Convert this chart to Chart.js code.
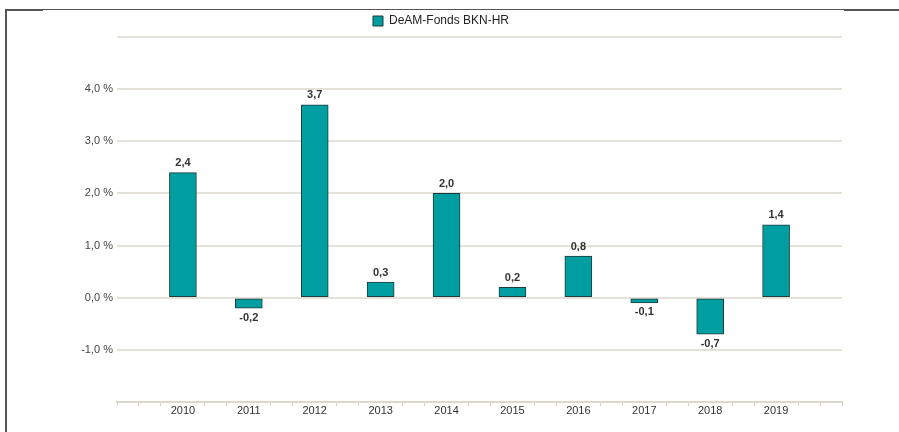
<!DOCTYPE html>
<html>
<head>
<meta charset="utf-8">
<script src="https://cdn.jsdelivr.net/npm/chart.js@4.4.0/dist/chart.umd.min.js"></script>
<style>
  html, body { margin: 0; padding: 0; background: #fff; }
  #wrap { position: relative; width: 899px; height: 432px; }
  #frame { position: absolute; left: 5px; top: 9px; width: 894px; height: 423px;
           border-top: 1px solid #555; border-left: 2px solid #555; box-sizing: border-box; pointer-events: none; }
  .thick { position: absolute; top: 9px; height: 2px; background: #555; }
</style>
</head>
<body>
<div id="wrap">
  <canvas id="myChart" width="899" height="432"></canvas>
  <div id="frame"></div>
  <div class="thick" style="left:5px;width:38px"></div>
  <div class="thick" style="left:844px;width:55px"></div>
</div>
<script>
// Datos del gráfico
var years = [2010, 2011, 2012, 2013, 2014, 2015, 2016, 2017, 2018, 2019];
var values = [2.4, -0.2, 3.7, 0.3, 2.0, 0.2, 0.8, -0.1, -0.7, 1.4];
var seriesName = 'DeAM-Fonds BKN-HR';
var yTicks = [-1, 0, 1, 2, 3, 4];

var fontFamily = '"Liberation Sans", Arial, sans-serif';

function fmt(v, dec) {
  return v.toFixed(dec).replace('.', ',');
}

// Plugin para dibujar los valores encima/debajo de las barras
var valueLabels = {
  id: 'valueLabels',
  afterDatasetsDraw: function(chart) {
    var ctx = chart.ctx;
    var meta = chart.getDatasetMeta(0);
    ctx.save();
    ctx.font = 'bold 11px ' + fontFamily;
    ctx.fillStyle = '#333';
    ctx.textAlign = 'center';
    meta.data.forEach(function(bar, i) {
      var v = values[i];
      if (v >= 0) {
        ctx.textBaseline = 'bottom';
        ctx.fillText(fmt(v, 1), bar.x, bar.y - 4);
      } else {
        ctx.textBaseline = 'top';
        ctx.fillText(fmt(v, 1), bar.x, bar.y + 4);
      }
    });
    ctx.restore();
  }
};

// la leyenda va un poco más a la derecha
var legendShift = {
  id: 'legendShift',
  afterLayout: function(chart) {
    chart.legend.left += 20;
    chart.legend.right += 20;
  }
};

function isYear(v) {
  return Math.abs(v - Math.round(v)) < 0.01;
}

var points = years.map(function(y, i) { return { x: y, y: values[i] }; });

var ctx = document.getElementById('myChart').getContext('2d');
var myChart = new Chart(ctx, {
  type: 'bar',
  data: {
    datasets: [{
      label: seriesName,
      data: points,
      backgroundColor: '#009ea0',
      borderColor: '#1e3a3a',
      borderWidth: 1,
      borderSkipped: false,
      barThickness: 27
    }]
  },
  options: {
    responsive: false,
    animation: false,
    layout: { padding: { left: 0, right: 57, top: 5, bottom: 0 } },
    plugins: {
      legend: {
        display: true,
        labels: {
          boxWidth: 10,
          boxHeight: 10,
          padding: 10,
          color: '#222',
          font: { family: fontFamily, size: 12 }
        }
      },
      tooltip: { enabled: false }
    },
    scales: {
      x: {
        type: 'linear',
        min: 2009,
        max: 2020,
        offset: false,
        afterFit: function(scale) { scale.height = 30; },
        border: { display: true, color: '#dcd8cc', width: 2 },
        grid: {
          offset: false,
          drawOnChartArea: false,
          drawTicks: true,
          tickLength: 4,
          tickWidth: 1,
          tickColor: function(c) {
            var v = c.tick ? c.tick.value : 0;
            if (isYear(v) && v > 2009.5 && v < 2019.5) return 'rgba(0,0,0,0)';
            return '#d6d2c6';
          }
        },
        ticks: {
          stepSize: 1 / 3,
          autoSkip: false,
          maxRotation: 0,
          padding: -2,
          color: '#333',
          font: { family: fontFamily, size: 11 },
          callback: function(v) {
            if (isYear(v) && v > 2009.5 && v < 2019.5) return String(Math.round(v));
            return '';
          }
        }
      },
      y: {
        min: -2,
        max: 5,
        afterFit: function(scale) { scale.width = 117; },
        border: { display: false },
        grid: {
          color: function(c) {
            return c.tick && c.tick.value === -2 ? 'rgba(0,0,0,0)' : '#e4e1da';
          },
          lineWidth: 2,
          drawTicks: false
        },
        ticks: {
          stepSize: 1,
          padding: 4,
          color: '#444',
          font: { family: fontFamily, size: 11 },
          callback: function(v) {
            return yTicks.indexOf(v) >= 0 ? fmt(v, 1) + ' %' : '';
          }
        }
      }
    }
  },
  plugins: [valueLabels, legendShift]
});
</script>
</body>
</html>
